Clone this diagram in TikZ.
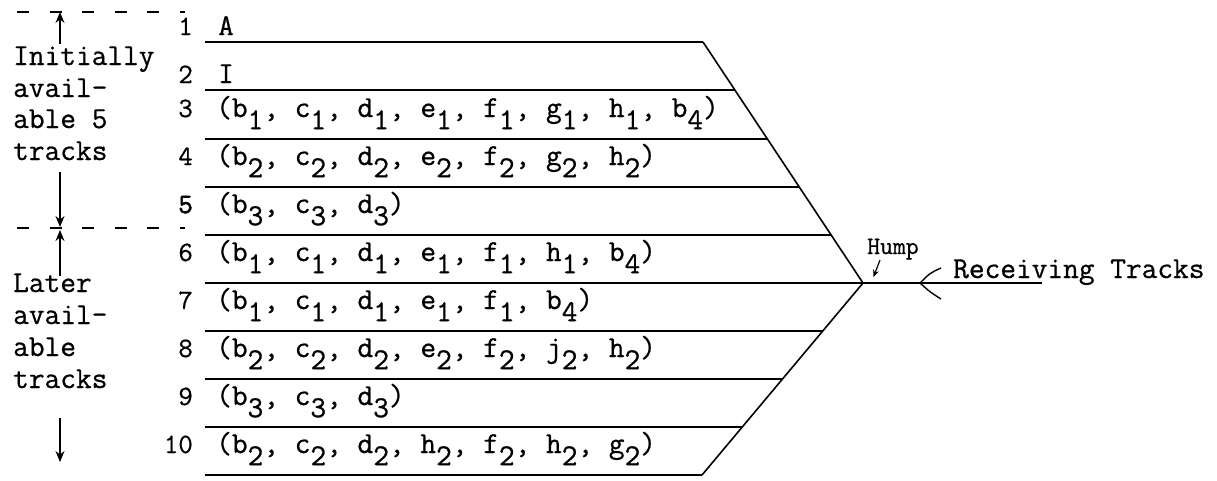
\documentclass[tikz,border=0pt]{standalone}
\usepackage{fontspec}
\usetikzlibrary{arrows.meta}
\newfontfamily\tw[FakeBold=0.7]{Latin Modern Mono}
\newfontfamily\twb[FakeBold=2.2]{Latin Modern Mono}
\newcommand\sbx[1]{\raisebox{-0.4em}{#1}}
\begin{document}
\begin{tikzpicture}[x=1pt,y=-1pt,
  track/.style={line width=1.6pt},
  lbl/.style={anchor=base west,inner sep=0pt,font=\fontsize{30.5}{32}\selectfont\tw},
  num/.style={anchor=base east,inner sep=0pt,font=\fontsize{28}{30}\selectfont\tw},
  seg/.style={dash pattern=on 12pt off 20.5pt,line width=1.5pt},
  arr/.style={line width=1.4pt,-{Stealth[length=11pt,width=9pt]}}]
\useasboundingbox (0,0) rectangle (1217,480);
% track line end points
\coordinate (s1) at (205,42);  \coordinate (e1) at (703,42);
\coordinate (s2) at (205,90);  \coordinate (e2) at (735,90);
\coordinate (s3) at (205,139); \coordinate (e3) at (767.4,139);
\coordinate (s4) at (205,187); \coordinate (e4) at (799.3,187);
\coordinate (s5) at (205,235); \coordinate (e5) at (831.1,235);
\coordinate (s6) at (205,283); \coordinate (hump) at (863,283);
\coordinate (s7) at (205,331); \coordinate (e7) at (822.8,331);
\coordinate (s8) at (205,379); \coordinate (e8) at (782.5,379);
\coordinate (s9) at (205,427); \coordinate (e9) at (742.3,427);
\coordinate (s10) at (205,475); \coordinate (e10) at (702,475);
\coordinate (recv) at (1042,283);
\foreach \i in {1,2,3,4,5,7,8,9,10} {\draw[track] (s\i) -- (e\i);}
\draw[track] (s6) -- (recv);
\draw[track] (e1) -- (hump) -- (e10);
% chevron on receiving track
\coordinate (cv) at (920,283);
\coordinate (cu) at (941,268);
\coordinate (cd) at (941,299);
\draw[line width=1.4pt] (cu) .. controls (930,273) .. (cv) .. controls (930,292) .. (cd);
% hump label
\node[anchor=base west,inner sep=0pt,font=\fontsize{25}{27}\selectfont\tw] (humplbl) at (867,254) {Hump};
\coordinate (ha) at (880,260);
\draw[line width=1.2pt,-{Stealth[length=7pt,width=6pt]}] (ha) -- (873.5,277);
\node[lbl] (recvlbl) at (953,278) {Receiving Tracks};
% track numbers
\node[num] (n1) at (193,35) {1};
\node[num] (n2) at (193,83) {2};
\node[num] (n3) at (193,117) {3};
\node[num] (n4) at (193,165) {4};
\node[num] (n5) at (193,213) {\twb 5};
\node[num] (n6) at (193,261) {6};
\node[num] (n7) at (193,309) {7};
\node[num] (n8) at (193,357) {8};
\node[num] (n9) at (193,405) {9};
\node[num] (n10) at (193,453) {10};
% track contents
\node[lbl] (c1) at (218,35) {A};
\node[lbl] (c2) at (218,83) {I};
\node[lbl] (c3) at (216,117) {(b\sbx1, c\sbx1, d\sbx1, e\sbx1, f\sbx1, g\sbx1, h\sbx1, b\sbx4)};
\node[lbl] (c4) at (216,165) {(b\sbx2, c\sbx2, d\sbx2, e\sbx2, f\sbx2, g\sbx2, h\sbx2)};
\node[lbl] (c5) at (216,213) {(b\sbx3, c\sbx3, d\sbx3)};
\node[lbl] (c6) at (216,261) {(b\sbx1, c\sbx1, d\sbx1, e\sbx1, f\sbx1, h\sbx1, b\sbx4)};
\node[lbl] (c7) at (216,309) {(b\sbx1, c\sbx1, d\sbx1, e\sbx1, f\sbx1, b\sbx4)};
\node[lbl] (c8) at (216,357) {(b\sbx2, c\sbx2, d\sbx2, e\sbx2, f\sbx2, j\sbx2, h\sbx2)};
\node[lbl] (c9) at (216,405) {(b\sbx3, c\sbx3, d\sbx3)};
\node[lbl] (c10) at (216,453) {(b\sbx2, c\sbx2, d\sbx2, h\sbx2, f\sbx2, h\sbx2, g\sbx2)};
% left side
\coordinate (da) at (17,12);  \coordinate (db) at (185,12);
\coordinate (dc) at (17,228); \coordinate (dd) at (185,228);
\draw[seg] (da) -- (db);
\draw[seg] (dc) -- (dd);
\node[lbl] (l1) at (13,65) {Initially};
\node[lbl] (l2) at (13,97) {avail-};
\node[lbl] (l3) at (13,128) {able 5};
\node[lbl] (l4) at (13,160) {tracks};
\node[lbl] (l5) at (13,292) {Later};
\node[lbl] (l6) at (13,324) {avail-};
\node[lbl] (l7) at (13,356) {able};
\node[lbl] (l8) at (13,388) {tracks};
\coordinate (a1) at (60,44);  \coordinate (a1t) at (60,12);
\coordinate (a2) at (60,172); \coordinate (a2t) at (60,227);
\coordinate (a3) at (60,276); \coordinate (a3t) at (60,230);
\coordinate (a4) at (60,418); \coordinate (a4t) at (60,462);
\draw[arr] (a1) -- (a1t);
\draw[arr] (a2) -- (a2t);
\draw[arr] (a3) -- (a3t);
\draw[arr] (a4) -- (a4t);
\end{tikzpicture}
\end{document}
